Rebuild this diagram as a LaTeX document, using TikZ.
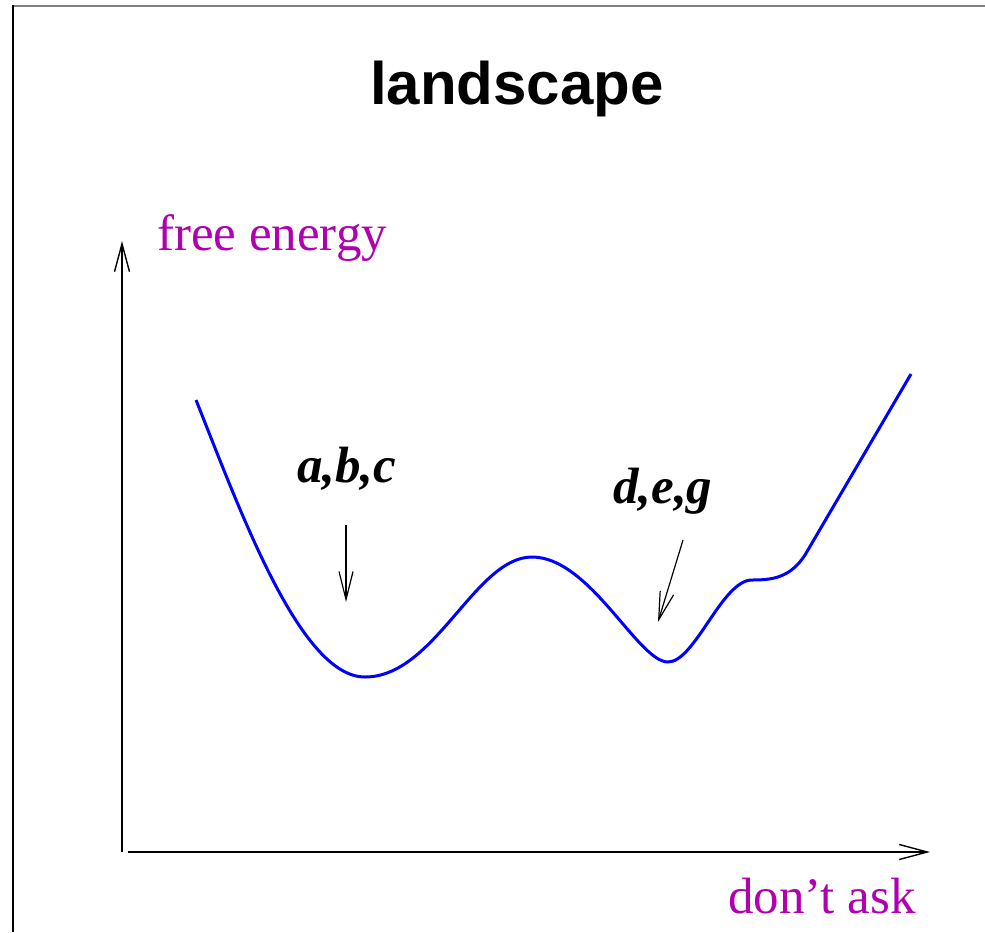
\documentclass[tikz,border=0pt]{standalone}
\usepackage{fontspec}
\setmainfont{Liberation Serif}
\newfontfamily\titlefont{Liberation Sans}
\usetikzlibrary{arrows.meta}
\definecolor{labelmagenta}{RGB}{176,0,176}
\begin{document}
\begin{tikzpicture}[x=1pt, y=-1pt,
    frame top/.style={line width=2pt, black!50},
    frame left/.style={line width=2pt, black},
    axis/.style={line width=1.4pt, -{Straight Barb[length=28pt, width=15pt, line width=1.4pt]}},
    pointer/.style={line width=1.2pt, -{Straight Barb[length=28pt, width=14pt, line width=1.2pt]}},
    energy curve/.style={line width=3pt, blue},
    axis label/.style={labelmagenta, inner sep=0pt, anchor=base west,
      font=\fontsize{51}{60}\selectfont},
    state label/.style={inner sep=0pt, anchor=base west,
      font=\fontsize{51}{60}\selectfont\bfseries\itshape}]

  \useasboundingbox (0,0) rectangle (985,932);

  % === Frame (only top and left edges are visible) ===
  \draw[frame top] (13,5.5) -- (985,5.5);
  \draw[frame left] (13,5) -- (13,932);

  % === Title ===
  \node[inner sep=0pt, anchor=base west, font=\titlefont\fontsize{60}{70}\selectfont\bfseries]
    (title) at (370,104) {landscape};

  % === Axes ===
  \coordinate (origin y) at (122,852);
  \coordinate (top y) at (122,241);
  \coordinate (origin x) at (128,852);
  \coordinate (end x) at (930,852);
  \draw[axis] (origin y) -- (top y);
  \draw[axis] (origin x) -- (end x);

  \node[axis label] (ylabel) at (157,250) {free energy};
  \node[axis label] (xlabel) at (728,913) {don’t ask};

  % === Free energy landscape: two minima, one barrier, one shoulder ===
  \draw[energy curve] (196,400)
    .. controls (240,510) and (300,677) .. (365,677)
    .. controls (435,677) and (475,557) .. (532,557)
    .. controls (590,557) and (638,662) .. (668,662)
    .. controls (695,662) and (722,580) .. (752,580)
    .. controls (772,580) and (790,578) .. (805,555)
    -- (911,374);

  % === Minima labels ===
  \node[state label] (abc) at (297,482) {a,b,c};
  \node[state label] (deg) at (613,503) {d,e,g};

  \coordinate (abc from) at (346,525);
  \coordinate (abc to) at (346,602);
  \coordinate (deg from) at (683,540);
  \coordinate (deg to) at (658,622);
  \draw[pointer] (abc from) -- (abc to);
  \draw[pointer] (deg from) -- (deg to);

\end{tikzpicture}
\end{document}
